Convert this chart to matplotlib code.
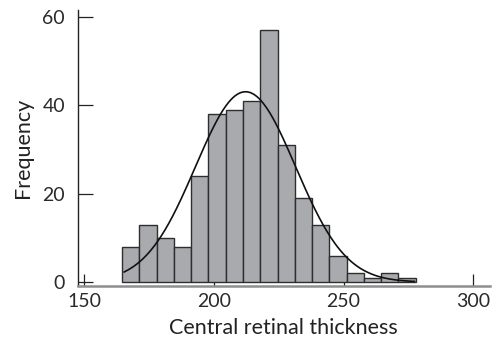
import numpy as np
import matplotlib
matplotlib.use('Agg')
import matplotlib.pyplot as plt

# histogram of central retinal thickness
bin_start = 164.6
bin_width = 6.66
counts = [8, 13, 10, 8, 24, 38, 39, 41, 57, 31, 19, 13, 6, 2, 1, 2, 1]

# fitted normal curve
fit_mean = 212.2
fit_sd = 19.3
fit_n = sum(counts)

x_ticks = [150, 200, 250, 300]
y_ticks = [0, 20, 40, 60]

plt.rcParams['font.family'] = ['Lato', 'DejaVu Sans']

fig = plt.figure(figsize=(4.95, 3.45), dpi=100)
ax = fig.add_axes([0.1566, 0.171, 0.8334, 0.80])

edges = bin_start + bin_width * np.arange(len(counts) + 1)
ax.bar(edges[:-1], counts, width=bin_width, align='edge',
       color='#a9aaae', edgecolor='#2e2e2e', linewidth=1.0, zorder=2)

xs = np.linspace(edges[0] + 0.8, edges[-1] - 0.5, 300)
ys = fit_n * bin_width / (fit_sd * np.sqrt(2 * np.pi)) * np.exp(-0.5 * ((xs - fit_mean) / fit_sd) ** 2)
ax.plot(xs, ys, color='#111111', linewidth=1.2, zorder=3)

ax.set_xlim(147.4, 306.5)
ax.set_ylim(-0.9, 61.6)
ax.set_xticks(x_ticks)
ax.set_yticks(y_ticks)

ax.spines['top'].set_visible(False)
ax.spines['right'].set_visible(False)
ax.spines['left'].set_color('#222222')
ax.spines['left'].set_linewidth(1.0)
ax.spines['bottom'].set_color('#8e8e8e')
ax.spines['bottom'].set_linewidth(1.8)

ax.tick_params(axis='y', direction='in', length=11, width=0.9, color='#222222',
               pad=9, labelsize=14, labelcolor='#2a2a2a')
ax.tick_params(axis='x', direction='in', length=9, width=0.9, color='#222222',
               pad=5, labelsize=14, labelcolor='#2a2a2a')

ax.set_xlabel('Central retinal thickness', fontsize=15.5, color='#222222', labelpad=6)
ax.set_ylabel('Frequency', fontsize=15.5, color='#222222', labelpad=7)

fig.savefig('out.png', dpi=100)
